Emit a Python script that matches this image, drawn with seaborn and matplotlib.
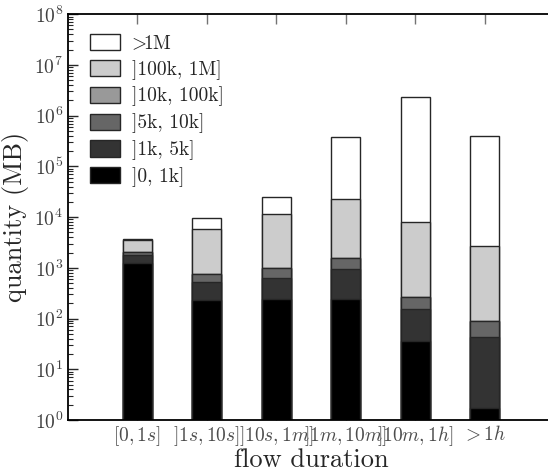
import numpy as np
import pandas as pd
import matplotlib
matplotlib.use("Agg")
import matplotlib.pyplot as plt
import seaborn as sns

# flow duration classes (x axis)
durations = [r'$[0,1s]$', r'$]1s,10s]$', r'$]10s,1m]$',
             r'$]1m,10m]$', r'$]10m,1h]$', r'$>1h$']

# flow size classes, bottom of the stack first
size_labels = [']0, 1k]', ']1k, 5k]', ']5k, 10k]',
               ']10k, 100k]', ']100k, 1M]', r'$\!\!\!>\!\!$1M']
size_colors = ['#000000', '#333333', '#666666', '#999999', '#cccccc', '#ffffff']

# quantity (MB) per size class
q_0_1k = [1240, 228, 239, 246, 36.5, 1.75]
q_1k_5k = [580, 289, 381, 685, 117, 42]
q_5k_10k = [190, 236, 355, 647, 108, 45.5]
q_10k_100k = [0, 0, 0, 0, 0, 0]
q_100k_1m = [1500, 5050, 10300, 21400, 7830, 2630]
q_gt_1m = [120, 3890, 13500, 359000, 2340000, 397000]

series = [q_0_1k, q_1k_5k, q_5k_10k, q_10k_100k, q_100k_1m, q_gt_1m]

sns.set_style('ticks')
plt.rcParams['font.family'] = 'serif'
plt.rcParams['font.serif'] = ['cmr10', 'DejaVu Serif']
plt.rcParams['mathtext.fontset'] = 'cm'
plt.rcParams['axes.formatter.use_mathtext'] = True
plt.rcParams['axes.unicode_minus'] = False

fig = plt.figure(figsize=(5.48, 4.73), dpi=100)
ax = fig.add_axes([0.124, 0.112, 1.011 - 0.124, 0.970 - 0.112])

cum = np.cumsum(np.array(series, dtype=float), axis=0)
# draw tallest cumulative first so the lower classes sit on top of it
for i in range(len(series) - 1, -1, -1):
    df = pd.DataFrame({'duration': durations, 'quantity': cum[i]})
    sns.barplot(data=df, x='duration', y='quantity', order=durations,
                color=size_colors[i], width=0.42, edgecolor='0.15',
                linewidth=1.0, saturation=1, ax=ax, label=size_labels[i])

ax.set_yscale('log')
ax.set_ylim(1, 1e8)
ax.set_xlim(-1, 6)

ax.set_xlabel('flow duration', fontsize=19, labelpad=0)
ax.set_ylabel('quantity (MB)', fontsize=19, labelpad=4)

ax.tick_params(axis='y', which='major', direction='in', length=7, width=1,
               labelsize=14, labelcolor='0.25', right=False)
ax.tick_params(axis='y', which='minor', direction='in', length=3.5, width=0.8)
ax.tick_params(axis='x', direction='in', length=7, width=1, top=True,
               labelsize=14, labelcolor='0.3', color='0.45', pad=3)
for sp in ax.spines.values():
    sp.set_linewidth(1.3)
    sp.set_color('black')

handles, labels = ax.get_legend_handles_labels()
ax.legend(handles, labels, loc='upper left', bbox_to_anchor=(0.03, 0.97),
          frameon=False, fontsize=14, handlelength=1.55, handleheight=0.9,
          labelspacing=0.36, handletextpad=0.6, borderaxespad=0.0)

fig.savefig('out.png', dpi=100)
